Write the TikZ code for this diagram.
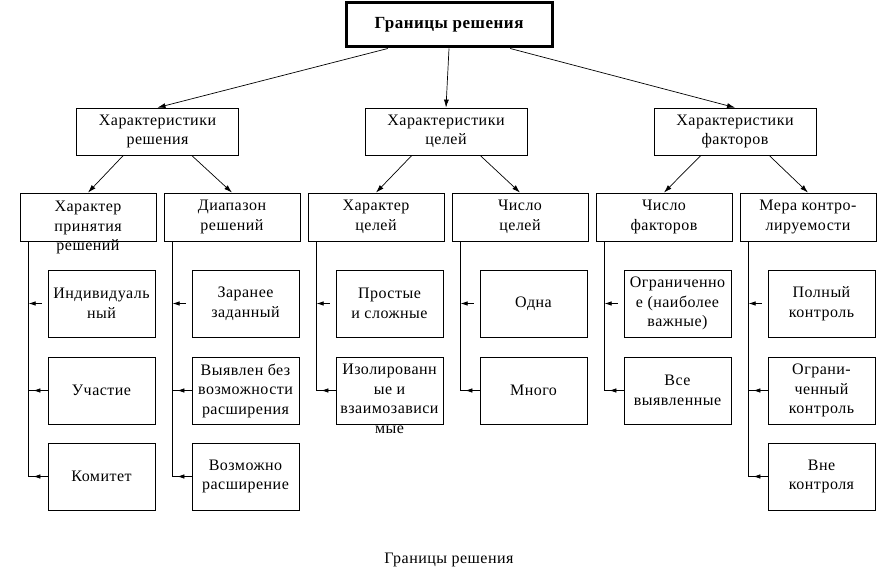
\documentclass[tikz,border=0pt]{standalone}
\usepackage{fontspec}
\setmainfont[LetterSpace=3]{Liberation Serif}
\usetikzlibrary{arrows.meta,decorations.markings}

% text set from the top of a box of fixed size
\newcommand{\topalign}[4]{\parbox[c][#2][t]{#1}{\vspace*{#3}\centering\strut #4}}

\begin{document}
\begin{tikzpicture}[x=1pt, y=-1pt, font=\fontsize{16}{19.5}\selectfont,
    box/.style={draw, line width=0.8pt, inner sep=0pt, align=center},
    upper/.style={box, minimum width=162pt, minimum height=47pt},
    group/.style={box, minimum width=136pt, minimum height=48pt},
    leaf/.style={box, minimum width=107pt, minimum height=67pt},
    link/.style={line width=0.7pt, -{Latex[length=8pt, width=5pt]}},
    stub/.style={line width=0.7pt, -{Latex[length=7pt, width=4.5pt]}},
    feed/.style={line width=0.7pt, postaction={decorate},
        decoration={markings, mark=at position 0.75 with {\arrow{Latex[length=7pt, width=4.5pt]}}}}]
    \useasboundingbox (0,0) rectangle (894,578);

    % Root
    \node[draw, line width=3pt, inner sep=0pt, minimum width=206pt, minimum height=44pt,
        font=\bfseries\fontsize{17}{20}\selectfont] (Bounds) at (449,25) {Границы решения};

    % Characteristics
    \node[upper] (ChSol) at (157.5,131.5) {Характеристики\\решения};
    \node[upper] (ChGoal) at (446,131.5) {Характеристики\\целей};
    \node[upper] (ChFac) at (735,131.5) {Характеристики\\факторов};

    % Groups
    \node[group] (SolMode) at (88,217) {\topalign{136pt}{48pt}{5pt}{Характер\\принятия\\решений}};
    \node[group] (SolRange) at (232,217) {Диапазон\\решений};
    \node[group] (GoalMode) at (376,217) {Характер\\целей};
    \node[group] (GoalNum) at (520,217) {Число\\целей};
    \node[group] (FacNum) at (664,217) {Число\\факторов};
    \node[group] (FacCtrl) at (808,217) {Мера контро-\\лируемости};

    % Leaves
    \node[leaf] (Individual) at (101.5,303.5) {Индивидуаль\\ный};
    \node[leaf] (Participation) at (101.5,390.5) {Участие};
    \node[leaf] (Committee) at (101.5,476.5) {Комитет};
    \node[leaf] (Preset) at (245.5,303.5) {Заранее\\заданный};
    \node[leaf] (NoExpand) at (245.5,390.5) {Выявлен без\\возможности\\расширения};
    \node[leaf] (Expand) at (245.5,476.5) {Возможно\\расширение};
    \node[leaf] (Simple) at (389.5,303.5) {Простые\\и сложные};
    \node[leaf] (Isolated) at (389.5,390.5) {\topalign{107pt}{67pt}{4pt}{Изолированн\\ые и\\взаимозависи\\мые}};
    \node[leaf] (One) at (533.5,303.5) {Одна};
    \node[leaf] (Many) at (533.5,390.5) {Много};
    \node[leaf] (Limited) at (677.5,303.5) {Ограниченно\\е (наиболее\\важные)};
    \node[leaf] (AllFound) at (677.5,390.5) {Все\\выявленные};
    \node[leaf] (FullCtrl) at (821.5,303.5) {Полный\\контроль};
    \node[leaf] (PartCtrl) at (821.5,390.5) {Ограни-\\ченный\\контроль};
    \node[leaf] (NoCtrl) at (821.5,476.5) {Вне\\контроля};

    % Caption
    \node (Caption) at (449,560) {Границы решения};

    % Root to characteristics
    \draw[link] (Bounds.-159) -- (ChSol.north);
    \draw[link] (Bounds.south) -- (ChGoal.north);
    \draw[link] (Bounds.-21) -- (ChFac.north);

    % Characteristics to groups
    \draw[link] (ChSol.-145) -- (SolMode.north);
    \draw[link] (ChSol.-35) -- (SolRange.north);
    \draw[link] (ChGoal.-145) -- (GoalMode.north);
    \draw[link] (ChGoal.-35) -- (GoalNum.north);
    \draw[link] (ChFac.-145) -- (FacNum.north);
    \draw[link] (ChFac.-35) -- (FacCtrl.north);

    % Spines
    \coordinate (SolModeS) at ([xshift=9pt]SolMode.south west);
    \coordinate (SolRangeS) at ([xshift=9pt]SolRange.south west);
    \coordinate (GoalModeS) at ([xshift=9pt]GoalMode.south west);
    \coordinate (GoalNumS) at ([xshift=9pt]GoalNum.south west);
    \coordinate (FacNumS) at ([xshift=9pt]FacNum.south west);
    \coordinate (FacCtrlS) at ([xshift=9pt]FacCtrl.south west);
    \draw[line width=0.7pt] (SolModeS) -- (SolModeS |- Committee.west);
    \draw[line width=0.7pt] (SolRangeS) -- (SolRangeS |- Expand.west);
    \draw[line width=0.7pt] (GoalModeS) -- (GoalModeS |- Isolated.west);
    \draw[line width=0.7pt] (GoalNumS) -- (GoalNumS |- Many.west);
    \draw[line width=0.7pt] (FacNumS) -- (FacNumS |- AllFound.west);
    \draw[line width=0.7pt] (FacCtrlS) -- (FacCtrlS |- NoCtrl.west);

    % Groups to leaves
    \draw[stub] ([xshift=-6pt]Individual.west) -- (SolModeS |- Individual.west);
    \draw[feed] (Participation.west) -- (SolModeS |- Participation.west);
    \draw[feed] (Committee.west) -- (SolModeS |- Committee.west);
    \draw[stub] ([xshift=-6pt]Preset.west) -- (SolRangeS |- Preset.west);
    \draw[feed] (NoExpand.west) -- (SolRangeS |- NoExpand.west);
    \draw[feed] (Expand.west) -- (SolRangeS |- Expand.west);
    \draw[stub] ([xshift=-6pt]Simple.west) -- (GoalModeS |- Simple.west);
    \draw[feed] (Isolated.west) -- (GoalModeS |- Isolated.west);
    \draw[stub] ([xshift=-6pt]One.west) -- (GoalNumS |- One.west);
    \draw[feed] (Many.west) -- (GoalNumS |- Many.west);
    \draw[stub] ([xshift=-6pt]Limited.west) -- (FacNumS |- Limited.west);
    \draw[feed] (AllFound.west) -- (FacNumS |- AllFound.west);
    \draw[stub] ([xshift=-6pt]FullCtrl.west) -- (FacCtrlS |- FullCtrl.west);
    \draw[feed] (PartCtrl.west) -- (FacCtrlS |- PartCtrl.west);
    \draw[feed] (NoCtrl.west) -- (FacCtrlS |- NoCtrl.west);
\end{tikzpicture}
\end{document}
